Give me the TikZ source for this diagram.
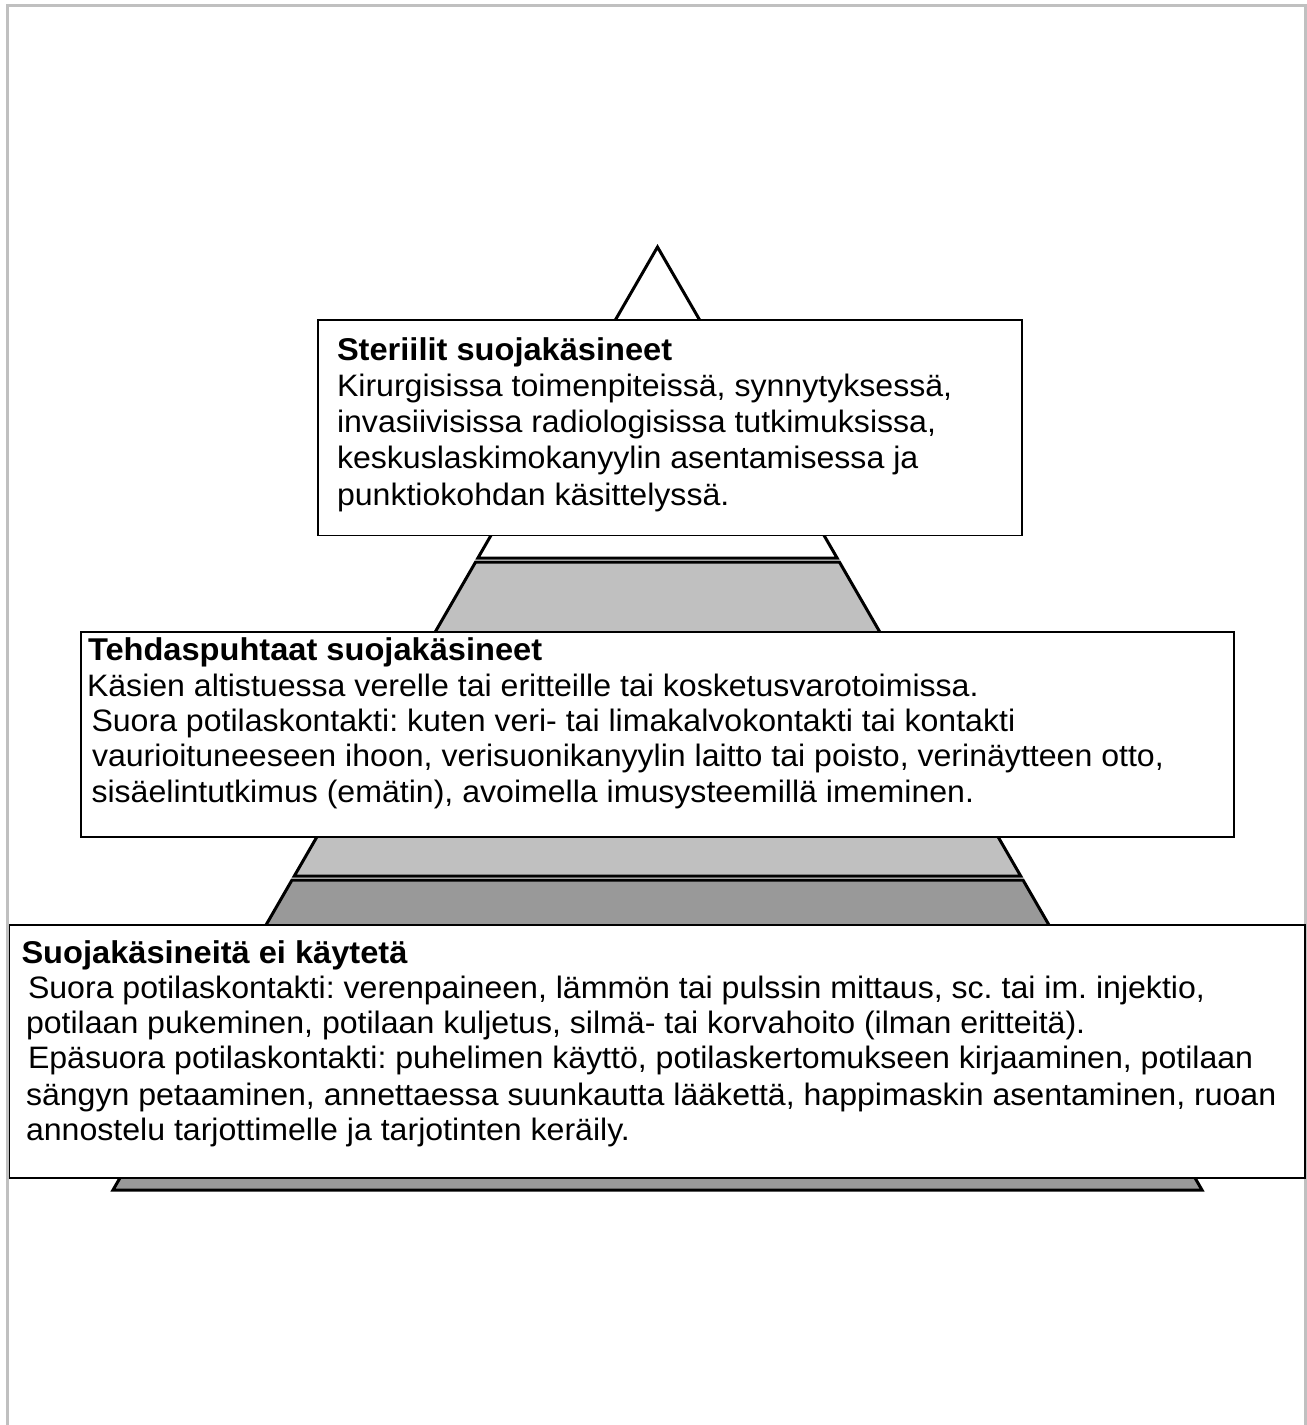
\documentclass[tikz,border=0pt]{standalone}
\usepackage{fontspec}
\setmainfont[FakeStretch=1.035]{Liberation Sans}
\definecolor{framegray}{HTML}{C0C0C0}
\definecolor{layerlight}{HTML}{C0C0C0}
\definecolor{layerdark}{HTML}{999999}
\frenchspacing
\begin{document}
\frenchspacing
\begin{tikzpicture}[x=1pt,y=-1pt,
  frameline/.style={draw=framegray, line width=3pt},
  layer/.style={draw=black, line width=3pt, line join=miter},
  box/.style={draw=black, line width=1.8pt, fill=white, anchor=north west, outer sep=0pt, inner sep=0pt},
  txt/.style={anchor=base west, inner sep=0pt, outer sep=0pt, font=\fontsize{31}{36}\selectfont},
  ttl/.style={txt, font=\fontsize{31.5}{36}\selectfont\bfseries}]
\useasboundingbox (0,0) rectangle (1307,1425);
% outer frame
\draw[frameline] (7.5,1440) -- (7.5,5.5) -- (1305.8,5.5) -- (1305.8,1440);
% pyramid layers
\draw[layer, fill=white] (657.5,247) -- (837.1,558) -- (477.9,558) -- cycle;
\draw[layer, fill=layerlight] (475.6,562) -- (839.4,562) -- (1020.7,876) -- (294.3,876) -- cycle;
\draw[layer, fill=layerdark] (292.0,880) -- (1023.0,880) -- (1202.0,1190) -- (113.0,1190) -- cycle;
% boxes
\node[box, minimum width=704pt, minimum height=215.5pt] (b1) at (318,320) {};
\node[box, minimum width=1153pt, minimum height=205pt] (b2) at (81,632) {};
\node[box, minimum width=1295.5pt, minimum height=253pt] (b3) at (9.5,925) {};
% box 1 text
\node[ttl] (t1a) at (337,360) {Steriilit suojakäsineet};
\node[txt] (t1b) at (337,396.3) {Kirurgisissa toimenpiteissä, synnytyksessä,};
\node[txt] (t1c) at (337,432.5) {invasiivisissa radiologisissa tutkimuksissa,};
\node[txt] (t1d) at (337,468.8) {keskuslaskimokanyylin asentamisessa ja};
\node[txt] (t1e) at (337,505) {punktiokohdan käsittelyssä.};
% box 2 text
\node[ttl] (t2a) at (88,660) {Tehdaspuhtaat suojakäsineet};
\node[txt] (t2b) at (87,696) {Käsien altistuessa verelle tai eritteille tai kosketusvarotoimissa.};
\node[txt] (t2c) at (91.5,731.7) {Suora potilaskontakti: kuten veri- tai limakalvokontakti tai kontakti};
\node[txt] (t2d) at (92,766.7) {vaurioituneeseen ihoon, verisuonikanyylin laitto tai poisto, verinäytteen otto,};
\node[txt] (t2e) at (91.5,802.7) {sisäelintutkimus (emätin), avoimella imusysteemillä imeminen.};
% box 3 text
\node[ttl] (t3a) at (21.5,963) {Suojakäsineitä ei käytetä};
\node[txt] (t3b) at (28,998) {Suora potilaskontakti: verenpaineen, lämmön tai pulssin mittaus, sc. tai im. injektio,};
\node[txt] (t3c) at (26,1033) {potilaan pukeminen, potilaan kuljetus, silmä- tai korvahoito (ilman eritteitä).};
\node[txt] (t3d) at (28,1068) {Epäsuora potilaskontakti: puhelimen käyttö, potilaskertomukseen kirjaaminen, potilaan};
\node[txt] (t3e) at (26,1105) {sängyn petaaminen, annettaessa suunkautta lääkettä, happimaskin asentaminen, ruoan};
\node[txt] (t3f) at (26,1140) {annostelu tarjottimelle ja tarjotinten keräily.};
\end{tikzpicture}
\end{document}
